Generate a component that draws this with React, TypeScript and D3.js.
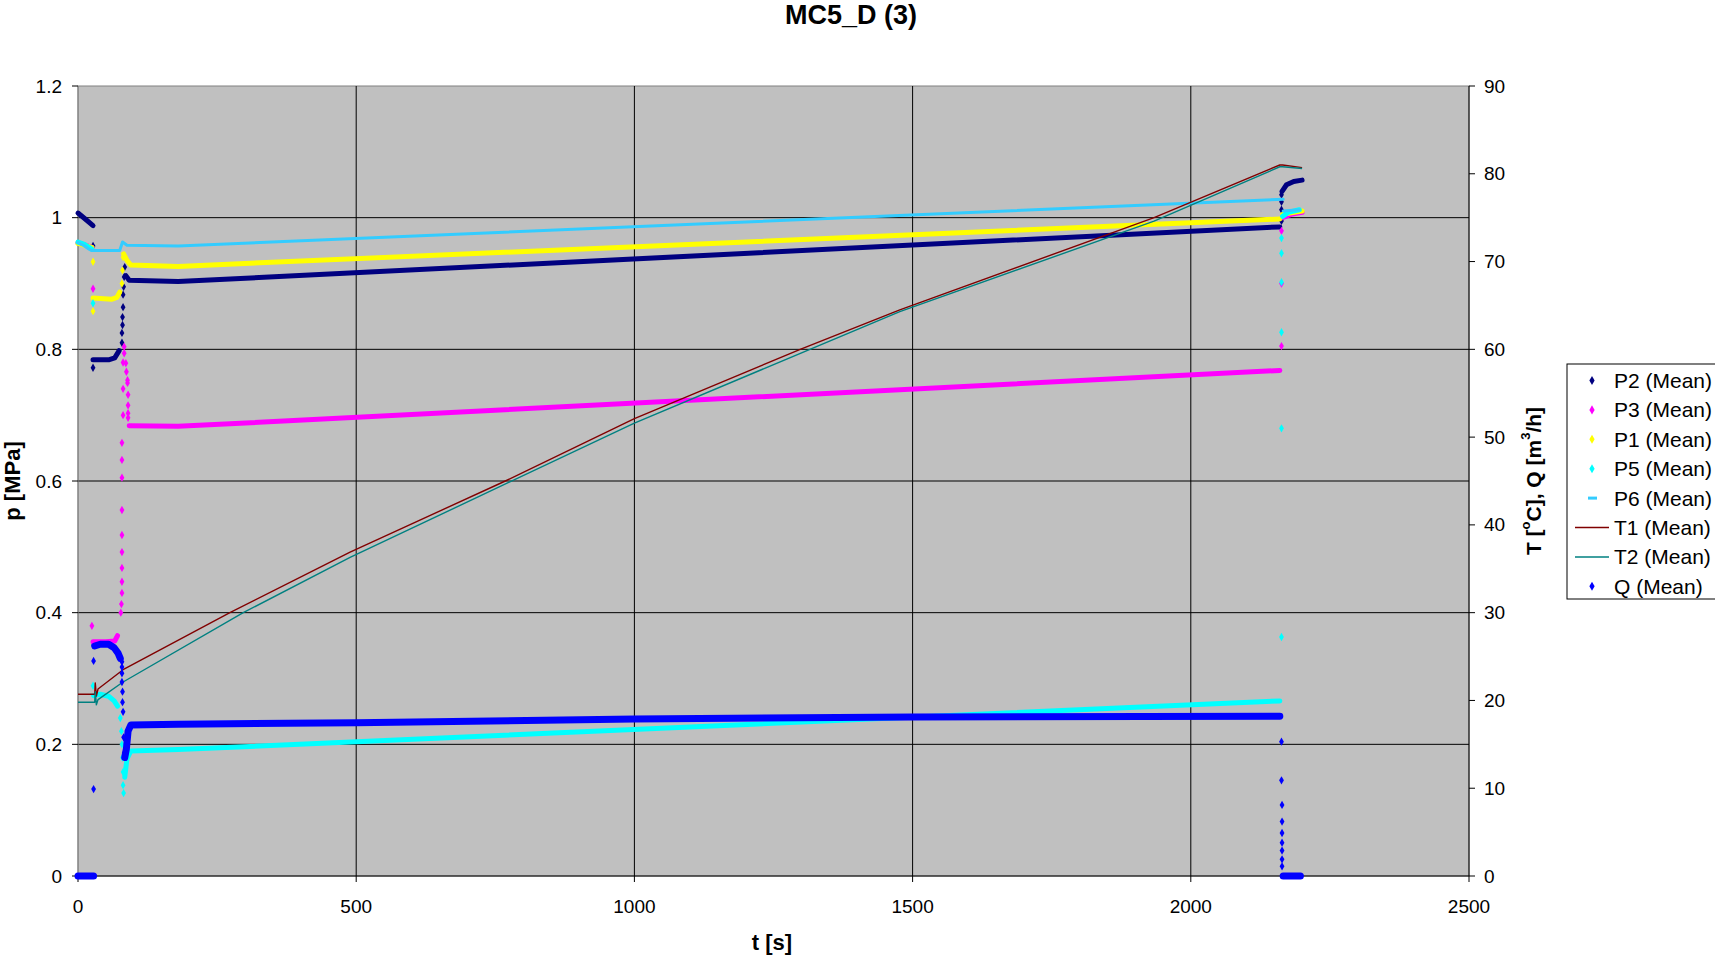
import React from "react";
import * as d3 from "d3";

type Pt = [number, number];

// ---- axes
const X_TICKS = [0, 500, 1000, 1500, 2000, 2500];
const P_TICKS = [0, 0.2, 0.4, 0.6, 0.8, 1, 1.2];
const R_TICKS = [0, 10, 20, 30, 40, 50, 60, 70, 80, 90];

// ---- P2 (Mean) [MPa]
const P2_RUNS: Pt[][] = [
  [[0, 1.007], [13, 0.998], [27, 0.988]],
  [[27, 0.784], [55, 0.784], [66, 0.787], [74, 0.798]],
  [[86, 0.912], [92, 0.905], [180, 0.903], [2160, 0.986]],
  [[2164, 1.04], [2172, 1.05], [2185, 1.055], [2200, 1.057]],
];
const P2_DOTS: Pt[] = [
  [27, 0.957], [27, 0.772], [79, 0.81], [79, 0.825], [80, 0.837], [80, 0.849],
  [81, 0.864], [81, 0.883], [82, 0.895], [83, 0.91], [84, 0.925],
  [2163, 0.995], [2163, 1.012], [2163, 1.024], [2163, 1.035],
];

// ---- P3 (Mean) [MPa]
const P3_RUNS: Pt[][] = [
  [[0, 0.962], [25, 0.955]],
  [[27, 0.356], [50, 0.356], [66, 0.357], [71, 0.365]],
  [[92, 0.684], [180, 0.683], [2160, 0.768]],
  [[2165, 1.0], [2180, 1.005], [2200, 1.008]],
];
const P3_DOTS: Pt[] = [
  [27, 0.892], [25, 0.38], [77, 0.4], [78, 0.413], [79, 0.43], [79, 0.447],
  [79, 0.468], [79, 0.492], [79, 0.518], [79, 0.556], [79, 0.605], [79, 0.632],
  [79, 0.658], [81, 0.7], [81, 0.74], [81, 0.78], [83, 0.804], [83, 0.794],
  [86, 0.779], [87, 0.766], [89, 0.753], [89, 0.749], [90, 0.731], [90, 0.715],
  [90, 0.703], [90, 0.696], [2163, 0.805], [2163, 0.9], [2163, 0.98],
];

// ---- P1 (Mean) [MPa]
const P1_RUNS: Pt[][] = [
  [[0, 0.961], [25, 0.955]],
  [[27, 0.878], [60, 0.876], [70, 0.879], [75, 0.887]],
  [[82, 0.945], [88, 0.935], [95, 0.928], [180, 0.926], [2160, 0.998]],
  [[2165, 1.005], [2200, 1.01]],
];
const P1_DOTS: Pt[] = [[27, 0.933], [27, 0.858], [79, 0.9], [80, 0.92], [81, 0.94]];

// ---- P5 (Mean) [MPa]
const P5_RUNS: Pt[][] = [
  [[0, 0.963], [10, 0.96], [20, 0.955], [25, 0.952]],
  [[28, 0.274], [40, 0.276], [55, 0.273], [65, 0.266], [71, 0.258]],
  [[84, 0.15], [88, 0.178], [95, 0.19], [180, 0.192], [2160, 0.266]],
  [[2165, 1.002], [2175, 1.008], [2195, 1.012]],
];
const P5_DOTS: Pt[] = [
  [27, 0.87], [27, 0.289], [76, 0.24], [78, 0.22], [79, 0.2], [80, 0.18],
  [81, 0.158], [81, 0.138], [82, 0.126], [2163, 0.363], [2163, 0.68],
  [2163, 0.826], [2163, 0.902], [2163, 0.946], [2163, 0.969],
];

// ---- P6 (Mean) [MPa]
const P6_RUNS: Pt[][] = [
  [[0, 0.962], [10, 0.958], [20, 0.952], [25, 0.95], [75, 0.95], [80, 0.963], [88, 0.958], [180, 0.957], [2166, 1.028]],
  [[2166, 1.01], [2195, 1.012]],
];
const P6_DOTS: Pt[] = [];

// ---- T1 / T2 (Mean) [°C]
const T1_LINE: Pt[] = [
  [0, 20.7], [30, 20.7], [31, 22.0], [33, 20.5], [36, 21.3], [81, 23.5], [273, 30],
  [489, 36.9], [768, 45], [1000, 52.1], [1298, 60], [1477, 64.5], [1934, 75],
  [2160, 81], [2165, 81], [2200, 80.7],
];
const T2_LINE: Pt[] = [
  [0, 19.8], [30, 19.8], [31, 21.0], [33, 19.5], [36, 20.1], [81, 22.1], [297, 30],
  [489, 36.3], [1000, 51.6], [1477, 64.3], [1934, 74.6], [2160, 80.8], [2165, 80.8],
  [2200, 80.6],
];

// ---- Q (Mean) [m3/h]
const Q_RUNS: Pt[][] = [
  [[0, 0], [28, 0]],
  [[30, 26.2], [40, 26.4], [55, 26.4], [65, 26.0], [72, 25.4], [76, 24.8]],
  [[84, 13.5], [87, 14.5], [90, 16.5], [95, 17.2], [180, 17.3], [500, 17.45], [1000, 17.9], [1500, 18.1], [2160, 18.2]],
  [[2166, 0], [2197, 0]],
];
const Q_DOTS: Pt[] = [
  [28, 9.9], [28, 24.5], [79, 24.4], [79, 23.8], [79, 23.1], [79, 22.1], [80, 21.0],
  [80, 19.8], [81, 18.7], [82, 15.8], [83, 14.0], [2163, 15.3], [2163, 10.9],
  [2164, 8.1], [2164, 6.2], [2164, 4.9], [2164, 3.8], [2164, 2.9], [2164, 1.9], [2164, 1.1],
];

const SERIES = [
  { name: "P2 (Mean)", color: "#000080", runs: P2_RUNS, dots: P2_DOTS, axis: "p", w: 5 },
  { name: "P3 (Mean)", color: "#FF00FF", runs: P3_RUNS, dots: P3_DOTS, axis: "p", w: 5 },
  { name: "P1 (Mean)", color: "#FFFF00", runs: P1_RUNS, dots: P1_DOTS, axis: "p", w: 5 },
  { name: "P5 (Mean)", color: "#00FFFF", runs: P5_RUNS, dots: P5_DOTS, axis: "p", w: 5 },
  { name: "P6 (Mean)", color: "#33CCFF", runs: P6_RUNS, dots: P6_DOTS, axis: "p", w: 3 },
  { name: "T1 (Mean)", color: "#800000", runs: [T1_LINE], dots: [], axis: "r", w: 1.4 },
  { name: "T2 (Mean)", color: "#008080", runs: [T2_LINE], dots: [], axis: "r", w: 1.4 },
  { name: "Q (Mean)", color: "#0000FF", runs: Q_RUNS, dots: Q_DOTS, axis: "r", w: 7 },
];

const W = 1715;
const H = 956;
const M = { left: 78, right: 1469, top: 86, bottom: 876 };
const FONT = "'Liberation Sans', Arial, sans-serif";

export default function App() {
  const x = d3.scaleLinear().domain([0, 2500]).range([M.left, M.right]);
  const yP = d3.scaleLinear().domain([0, 1.2]).range([M.bottom, M.top]);
  const yR = d3.scaleLinear().domain([0, 90]).range([M.bottom, M.top]);
  const diamond = d3.symbol().type(d3.symbolDiamond).size(20)();
  const legendDiamond = d3.symbol().type(d3.symbolDiamond).size(24)();

  return (
    <svg width={W} height={H} style={{ position: "absolute", left: 0, top: 0, background: "#fff" }}
      fontFamily={FONT}>
      <rect x={0} y={0} width={W} height={H} fill="#fff" />
      <text x={851} y={15} textAnchor="middle" dominantBaseline="central" fontWeight="bold" fontSize={27}>
        MC5_D (3)
      </text>

      {/* plot area */}
      <rect x={M.left} y={M.top} width={M.right - M.left} height={M.bottom - M.top} fill="#C0C0C0" stroke="#808080" />
      {P_TICKS.slice(1, -1).map((t) => (
        <line key={"gp" + t} x1={M.left} x2={M.right} y1={yP(t)} y2={yP(t)} stroke="#000" strokeWidth={1} />
      ))}
      {X_TICKS.slice(1, -1).map((t) => (
        <line key={"gx" + t} x1={x(t)} x2={x(t)} y1={M.top} y2={M.bottom} stroke="#000" strokeWidth={1} />
      ))}

      {/* axes */}
      <line x1={M.left} x2={M.left} y1={M.top} y2={M.bottom} stroke="#808080" />
      <line x1={M.right} x2={M.right} y1={M.top} y2={M.bottom} stroke="#000" />
      <line x1={M.left} x2={M.right} y1={M.bottom} y2={M.bottom} stroke="#000" />
      {P_TICKS.map((t) => (
        <g key={"tp" + t}>
          <line x1={M.left - 6} x2={M.left} y1={yP(t)} y2={yP(t)} stroke="#000" />
          <text x={62} y={yP(t)} textAnchor="end" dominantBaseline="central" fontSize={19}>
            {d3.format("~g")(t)}
          </text>
        </g>
      ))}
      {R_TICKS.map((t) => (
        <g key={"tr" + t}>
          <line x1={M.right} x2={M.right + 6} y1={yR(t)} y2={yR(t)} stroke="#000" />
          <text x={1484} y={yR(t)} textAnchor="start" dominantBaseline="central" fontSize={19}>
            {t}
          </text>
        </g>
      ))}
      {X_TICKS.map((t) => (
        <g key={"tx" + t}>
          <line x1={x(t)} x2={x(t)} y1={M.bottom} y2={M.bottom + 6} stroke="#000" />
          <text x={x(t)} y={906} textAnchor="middle" dominantBaseline="central" fontSize={19}>
            {t}
          </text>
        </g>
      ))}
      <text x={772} y={942} textAnchor="middle" dominantBaseline="central" fontWeight="bold" fontSize={22}>
        t [s]
      </text>
      <text x={12} y={481} transform="rotate(-90 12 481)" textAnchor="middle" dominantBaseline="central"
        fontWeight="bold" fontSize={22}>
        p [MPa]
      </text>
      <text x={1533} y={481} transform="rotate(-90 1533 481)" textAnchor="middle" dominantBaseline="central"
        fontWeight="bold" fontSize={21}>
        T [<tspan fontSize={13} dy={-8}>o</tspan><tspan dy={8}>C], Q [m</tspan>
        <tspan fontSize={13} dy={-8}>3</tspan><tspan dy={8}>/h]</tspan>
      </text>

      {/* series */}
      <g>
        {SERIES.map((s) => {
          const y = s.axis === "p" ? yP : yR;
          const line = d3.line<Pt>().x((d) => x(d[0])).y((d) => y(d[1]));
          return (
            <g key={s.name}>
              {s.runs.map((r, i) => (
                <path key={i} d={line(r) || ""} fill="none" stroke={s.color} strokeWidth={s.w}
                  strokeLinecap={s.axis === "r" && s.w < 3 ? "butt" : "round"} strokeLinejoin="round" />
              ))}
              {s.dots.map((d, i) => (
                <path key={"d" + i} d={diamond || ""} transform={`translate(${x(d[0])},${y(d[1])})`} fill={s.color} />
              ))}
            </g>
          );
        })}
      </g>

      {/* legend */}
      <rect x={1567} y={364} width={150} height={235} fill="#fff" stroke="#000" />
      {SERIES.map((s, i) => {
        const cy = 380.5 + i * 29.4;
        return (
          <g key={"lg" + s.name}>
            {s.name.startsWith("T") ? (
              <line x1={1575} x2={1609} y1={cy} y2={cy} stroke={s.color} strokeWidth={1.5} />
            ) : s.name.startsWith("P6") ? (
              <line x1={1588} x2={1597} y1={cy} y2={cy} stroke={s.color} strokeWidth={3} />
            ) : (
              <path d={legendDiamond || ""} transform={`translate(1592,${cy})`} fill={s.color} />
            )}
            <text x={1614} y={cy} dominantBaseline="central" fontSize={21}>
              {s.name}
            </text>
          </g>
        );
      })}
    </svg>
  );
}
